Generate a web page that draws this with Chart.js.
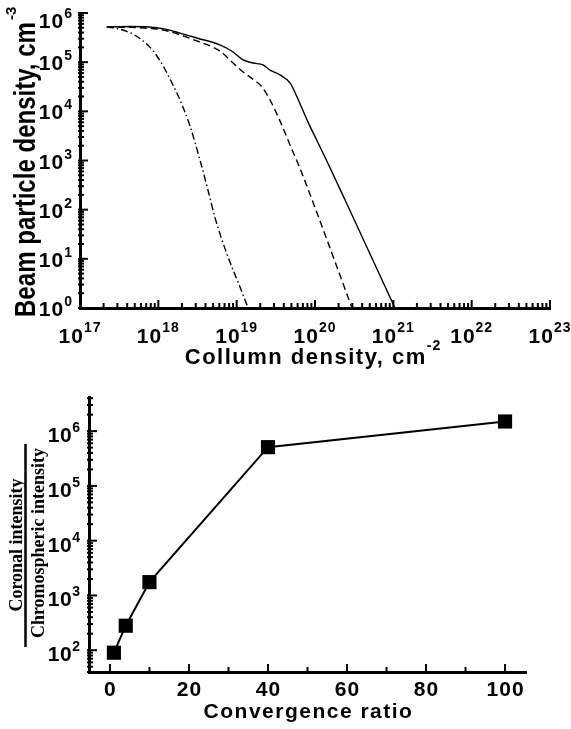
<!DOCTYPE html>
<html>
<head>
<meta charset="utf-8">
<script src="https://cdn.jsdelivr.net/npm/chart.js@4"></script>
<style>
  html, body { margin: 0; padding: 0; background: #fff; }
  #wrap { position: relative; width: 571px; height: 729px; }
  #topChart { position: absolute; left: 0; top: 0; }
  #bottomChart { position: absolute; left: 0; top: 372px; }
</style>
</head>
<body>
<div id="wrap">
  <canvas id="topChart" width="571" height="372"></canvas>
  <canvas id="bottomChart" width="571" height="357"></canvas>
</div>
<script>
// column density (cm^-2) vs beam particle density (cm^-3), three runs
const colSolid  = [2.2e17, 4.4e17, 7.5e17, 1.15e18, 1.9e18, 3.1e18, 6.1e18, 9.0e18, 1.21e19, 1.62e19, 2.17e19, 2.67e19, 3.57e19, 4.8e19, 5.9e19, 7.9e19, 1.16e20, 1.56e20, 2.42e20, 1.05e21];
const beamSolid = [5.2e5, 5.3e5, 5.2e5, 4.8e5, 3.9e5, 3.1e5, 2.24e5, 1.61e5, 1.11e5, 9.6e4, 8.8e4, 6.9e4, 5.5e4, 3.8e4, 1.96e4, 6.7e3, 1.88e3, 705, 157, 1];

const colDashed  = [2.2e17, 4.4e17, 1.15e18, 1.9e18, 3.1e18, 4.6e18, 6.1e18, 9.0e18, 1.21e19, 1.62e19, 2.11e19, 2.67e19, 3.57e19, 4.8e19, 6.4e19, 9.2e19, 2.97e20];
const beamDashed = [5.2e5, 5.1e5, 4.5e5, 3.6e5, 2.7e5, 2.13e5, 1.69e5, 9.6e4, 6.3e4, 4.5e4, 3.1e4, 1.7e4, 6.4e3, 2.07e3, 705, 157, 1];

const colDashDot  = [2.2e17, 3.2e17, 4.75e17, 6.4e17, 8.6e17, 1.15e18, 1.49e18, 1.89e18, 2.54e18, 3.4e18, 4.3e18, 5.3e18, 7.5e18, 1.1e19, 1.4e19];
const beamDashDot = [5.2e5, 4.7e5, 3.7e5, 2.7e5, 1.69e5, 8.4e4, 3.8e4, 1.7e4, 5.0e3, 1.02e3, 251, 68, 12.6, 2.7, 1];

// coronal / chromospheric intensity against convergence ratio
const convRatio      = [1, 4, 10, 40, 100];
const intensityRatio = [90, 280, 1750, 5.1e5, 1.5e6];

// tick labels (powers of ten are drawn as exponents)
const colExps   = [17, 18, 19, 20, 21, 22, 23];
const beamExps  = [0, 1, 2, 3, 4, 5, 6];
const ratioTicks = [0, 20, 40, 60, 80, 100];
const intensityExps = [2, 3, 4, 5, 6];

const SANS = '"Liberation Sans", Arial, sans-serif';
const SERIF = '"Liberation Serif", "Times New Roman", serif';

function pts(xs, ys) {
  return xs.map((x, i) => ({ x: x, y: ys[i] }));
}

// 1..9 x 10^k inside [min, max]
function logTicks(min, max) {
  const out = [];
  for (let e = Math.floor(Math.log10(min)); e <= Math.ceil(Math.log10(max)); e++) {
    for (let m = 1; m < 10; m++) {
      const v = m * Math.pow(10, e);
      if (v >= min * 0.999 && v <= max * 1.001) out.push({ v: v, major: m === 1 });
    }
  }
  return out;
}

function tick(ctx, x1, y1, x2, y2) {
  ctx.beginPath();
  ctx.moveTo(x1, y1);
  ctx.lineTo(x2, y2);
  ctx.stroke();
}

// "10" with a raised exponent
function powLabel(ctx, x, base, exp, align, f) {
  ctx.font = f.big; ctx.letterSpacing = f.ls;
  const w1 = ctx.measureText('10').width;
  ctx.font = f.small; ctx.letterSpacing = '1px';
  const w2 = ctx.measureText(String(exp)).width;
  const x0 = align === 'center' ? x - (w1 + w2) / 2 : x - w1 - w2;
  ctx.textAlign = 'left';
  ctx.textBaseline = 'alphabetic';
  ctx.font = f.big; ctx.letterSpacing = f.ls;
  ctx.fillText('10', x0, base);
  ctx.font = f.small; ctx.letterSpacing = '1px';
  ctx.fillText(String(exp), x0 + w1, base - f.rise);
}

const topDecor = {
  id: 'topDecor',
  afterDraw(chart) {
    const { ctx, chartArea: a, scales: { x, y } } = chart;
    ctx.save();
    ctx.strokeStyle = '#000';
    ctx.fillStyle = '#000';
    ctx.lineWidth = 2;
    logTicks(x.min, x.max).forEach(t => {
      const px = x.getPixelForValue(t.v);
      tick(ctx, px, a.bottom, px, a.bottom - (t.major ? 8 : 5));
    });
    logTicks(y.min, y.max).forEach(t => {
      const py = y.getPixelForValue(t.v);
      tick(ctx, a.left - 2, py, a.left + (t.major ? 8 : 4), py);
    });

    const f = { big: 'bold 21px ' + SANS, small: 'bold 14px ' + SANS, ls: '1px', rise: 11 };
    colExps.forEach(e => {
      powLabel(ctx, x.getPixelForValue(Math.pow(10, e)), a.bottom + 35, e, 'center', f);
    });
    beamExps.forEach(e => {
      // keep the top label clear of the edge
      const base = Math.max(y.getPixelForValue(Math.pow(10, e)) + 8, a.top + 15);
      powLabel(ctx, a.left - 7, base, e, 'right', { ...f, rise: 10 });
    });

    // x title
    ctx.font = 'bold 22px ' + SANS; ctx.letterSpacing = '1.5px';
    const xt = 'Collumn density, cm';
    const wt = ctx.measureText(xt).width;
    ctx.font = 'bold 14px ' + SANS; ctx.letterSpacing = '1px';
    const we = ctx.measureText('-2').width;
    const x0 = (a.left + a.right) / 2 - 2 - (wt + we) / 2;
    ctx.textAlign = 'left';
    ctx.font = 'bold 22px ' + SANS; ctx.letterSpacing = '1.5px';
    ctx.fillText(xt, x0, a.bottom + 56);
    ctx.font = 'bold 14px ' + SANS; ctx.letterSpacing = '1px';
    ctx.fillText('-2', x0 + wt, a.bottom + 42);

    // y title, rotated
    ctx.save();
    ctx.translate(35, 317);
    ctx.rotate(-Math.PI / 2);
    ctx.letterSpacing = '0px';
    ctx.font = 'bold 30px ' + SANS;
    ctx.fillText('Beam particle density, cm', 0, 0, 295);
    ctx.font = 'bold 15px ' + SANS;
    ctx.fillText('-3', 297, -19);
    ctx.restore();
    ctx.restore();
  }
};

const bottomDecor = {
  id: 'bottomDecor',
  afterDraw(chart) {
    const { ctx, chartArea: a, scales: { x, y } } = chart;
    ctx.save();
    ctx.strokeStyle = '#000';
    ctx.fillStyle = '#000';
    ctx.lineWidth = 2;
    ratioTicks.forEach((v, i) => {
      const px = x.getPixelForValue(v);
      tick(ctx, px, a.bottom, px, a.bottom - 8);
      if (i < ratioTicks.length - 1) {
        const pm = x.getPixelForValue(v + 10);
        tick(ctx, pm, a.bottom, pm, a.bottom - 5);
      }
    });
    logTicks(y.min, y.max).forEach(t => {
      const py = y.getPixelForValue(t.v);
      tick(ctx, a.left - 2, py, a.left + (t.major ? 8 : 4), py);
    });

    // x labels
    ctx.font = 'bold 21px ' + SANS; ctx.letterSpacing = '1px';
    ctx.textAlign = 'center';
    ctx.textBaseline = 'alphabetic';
    ratioTicks.forEach(v => {
      ctx.fillText(String(v), x.getPixelForValue(v) + 0.5, a.bottom + 24);
    });

    // y labels
    const f = { big: 'bold 21px ' + SANS, small: 'bold 14px ' + SANS, ls: '0.5px', rise: 10 };
    intensityExps.forEach(e => {
      powLabel(ctx, a.left - 8, y.getPixelForValue(Math.pow(10, e)) + 11, e, 'right', f);
    });

    // x title
    ctx.font = 'bold 21px ' + SANS; ctx.letterSpacing = '1.5px';
    ctx.textAlign = 'center';
    ctx.fillText('Convergence ratio', (a.left + a.right) / 2 + 1, a.bottom + 46);

    // y title: intensity ratio written as a fraction
    ctx.save();
    ctx.translate(0, 173);
    ctx.rotate(-Math.PI / 2);
    ctx.letterSpacing = '0px';
    ctx.textAlign = 'center';
    ctx.font = 'bold 18px ' + SERIF;
    ctx.fillText('Coronal intensity', 0, 22);
    ctx.fillText('Chromospheric intensity', 2, 44);
    ctx.lineWidth = 2.5;
    tick(ctx, -102, 25.5, 101, 25.5);
    ctx.restore();
    ctx.restore();
  }
};

const lineStyle = { borderColor: '#000', borderWidth: 1.4, pointRadius: 0, fill: false, cubicInterpolationMode: 'monotone' };

new Chart(document.getElementById('topChart'), {
  type: 'line',
  data: {
    datasets: [
      { ...lineStyle, data: pts(colSolid, beamSolid) },
      { ...lineStyle, data: pts(colDashed, beamDashed), borderDash: [7, 4] },
      { ...lineStyle, data: pts(colDashDot, beamDashDot), borderDash: [7, 3, 1.5, 3] }
    ]
  },
  options: {
    responsive: false,
    animation: false,
    layout: { padding: { top: 13, right: 21, left: 0, bottom: 0 } },
    plugins: { legend: { display: false }, tooltip: { enabled: false } },
    scales: {
      x: {
        type: 'logarithmic', min: 1e17, max: 1e23,
        grid: { display: false }, ticks: { display: false },
        border: { display: true, width: 3, color: '#000' },
        afterFit: s => { s.height = 64; }
      },
      y: {
        type: 'logarithmic', min: 1, max: 1e6,
        grid: { display: false }, ticks: { display: false },
        border: { display: true, width: 3, color: '#000' },
        afterFit: s => { s.width = 80; }
      }
    }
  },
  plugins: [topDecor]
});

new Chart(document.getElementById('bottomChart'), {
  type: 'line',
  data: {
    datasets: [{
      data: pts(convRatio, intensityRatio),
      borderColor: '#000',
      borderWidth: 2,
      pointStyle: 'rect',
      pointRadius: 10,
      pointBorderWidth: 0,
      pointBackgroundColor: '#000',
      fill: false,
      tension: 0
    }]
  },
  options: {
    responsive: false,
    animation: false,
    layout: { padding: { top: 25, right: 45, left: 0, bottom: 0 } },
    plugins: { legend: { display: false }, tooltip: { enabled: false } },
    scales: {
      x: {
        type: 'linear', min: -5.3, max: 105.3,
        grid: { display: false }, ticks: { display: false },
        border: { display: true, width: 3, color: '#000' },
        afterFit: s => { s.height = 57; }
      },
      y: {
        type: 'logarithmic', min: 40, max: 4.2e6,
        grid: { display: false }, ticks: { display: false },
        border: { display: true, width: 3, color: '#000' },
        afterFit: s => { s.width = 89; }
      }
    }
  },
  plugins: [bottomDecor]
});
</script>
</body>
</html>
